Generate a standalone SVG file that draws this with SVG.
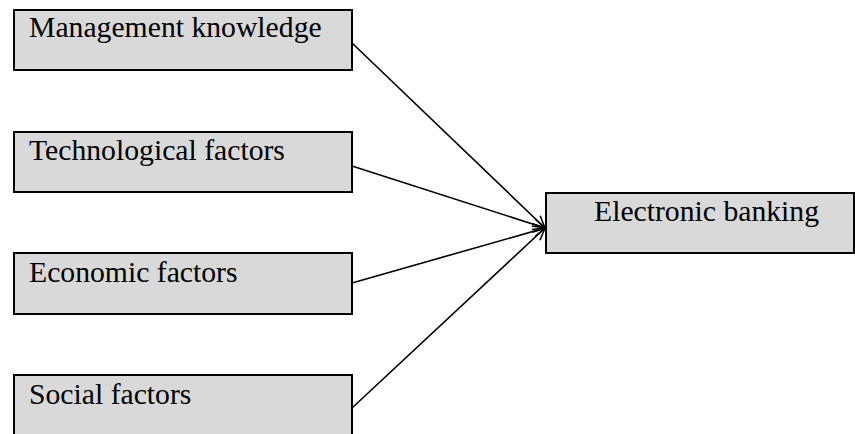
<svg xmlns="http://www.w3.org/2000/svg" width="855" height="434" viewBox="0 0 855 434">
<defs>
<style>
.box{fill:#d9d9d9;stroke:#000;stroke-width:2}
.lbl{font-family:'Liberation Serif','Times New Roman',serif;font-size:29.7px;fill:#000}
.conn{stroke:#000;stroke-width:1.6;fill:none;marker-end:url(#arr)}
</style>
<marker id="arr" markerUnits="userSpaceOnUse" markerWidth="16" markerHeight="14" refX="13" refY="6" orient="auto" viewBox="0 0 16 12">
<path d="M1,0.5 L13,6 L1,11.5" fill="none" stroke="#000" stroke-width="1.6"/>
</marker>
</defs>
<g id="connectors">
<line class="conn" x1="352" y1="43" x2="545" y2="228"/>
<line class="conn" x1="352" y1="166" x2="545" y2="228"/>
<line class="conn" x1="352" y1="283" x2="545" y2="228"/>
<line class="conn" x1="352" y1="408" x2="545" y2="228"/>
</g>
<g id="management">
<rect class="box" x="14" y="10" width="338" height="60"/>
<text class="lbl" x="29" y="37">Management knowledge</text>
</g>
<g id="technological">
<rect class="box" x="14" y="132" width="338" height="60"/>
<text class="lbl" x="29" y="160">Technological factors</text>
</g>
<g id="economic">
<rect class="box" x="14" y="253" width="338" height="61"/>
<text class="lbl" x="29" y="282">Economic factors</text>
</g>
<g id="social">
<rect class="box" x="14" y="375" width="338" height="62"/>
<text class="lbl" x="29" y="404">Social factors</text>
</g>
<g id="ebanking">
<rect class="box" x="546" y="193" width="308" height="60"/>
<text class="lbl" x="594" y="221">Electronic banking</text>
</g>
</svg>
